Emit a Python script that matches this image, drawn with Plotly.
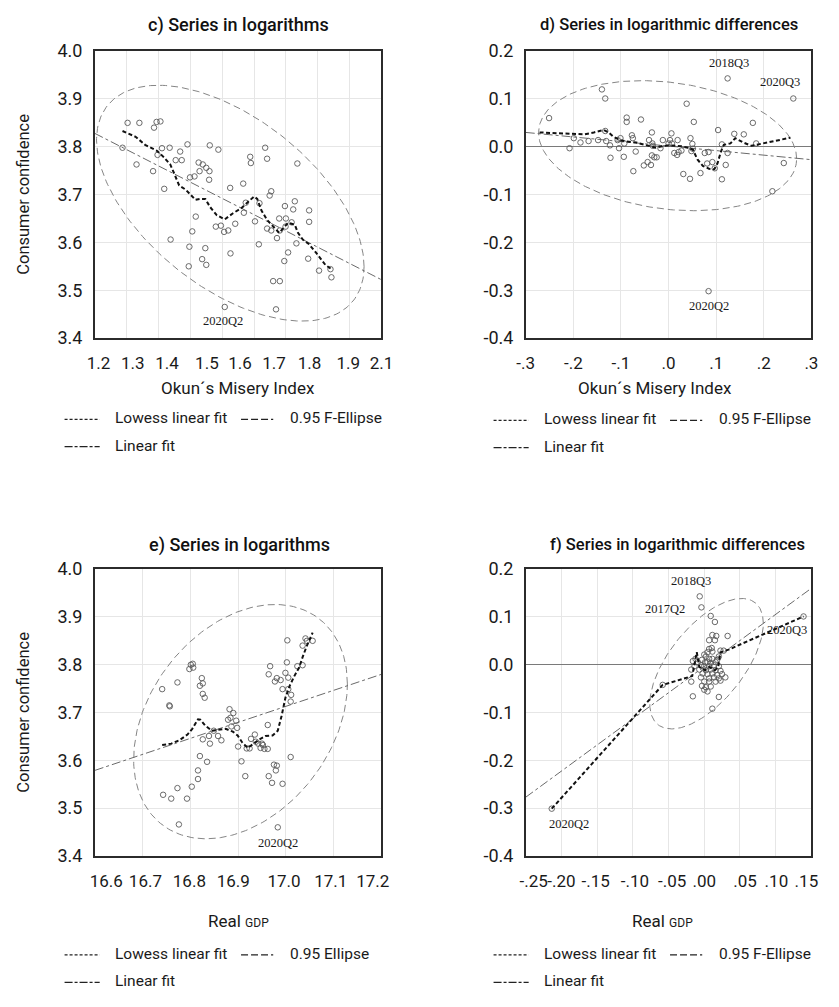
import numpy as np
import plotly.graph_objects as go

# ---------------- data ----------------
# Panel c: logs, Okun's misery index vs consumer confidence
c_x = [1.287, 1.303, 1.340, 1.331, 1.386, 1.394, 1.406, 1.383, 1.397, 1.411,
       1.435, 1.418, 1.438, 1.454, 1.468, 1.473, 1.491, 1.499, 1.513, 1.526,
       1.529, 1.539, 1.550, 1.561, 1.560, 1.559, 1.588, 1.517, 1.506, 1.497,
       1.495, 1.537, 1.547, 1.550, 1.580, 1.596, 1.606, 1.619, 1.625, 1.626,
       1.641, 1.608, 1.666, 1.668, 1.674, 1.688, 1.690, 1.703, 1.715, 1.717,
       1.735, 1.741, 1.741, 1.749, 1.754, 1.754, 1.772, 1.760, 1.781, 1.769,
       1.779, 1.781, 1.797, 1.800, 1.799, 1.795, 1.807, 1.823, 1.828, 1.818,
       1.833, 1.836, 1.873, 1.873, 1.870, 1.904, 1.940, 1.943]
c_y = [3.798, 3.850, 3.850, 3.763, 3.840, 3.852, 3.853, 3.749, 3.783, 3.797,
       3.798, 3.712, 3.606, 3.772, 3.790, 3.772, 3.805, 3.736, 3.738, 3.767,
       3.749, 3.763, 3.756, 3.803, 3.749, 3.731, 3.794, 3.654, 3.623, 3.591,
       3.550, 3.565, 3.588, 3.553, 3.633, 3.635, 3.622, 3.625, 3.714, 3.577,
       3.639, 3.465, 3.723, 3.662, 3.683, 3.779, 3.766, 3.644, 3.596, 3.682,
       3.798, 3.775, 3.629, 3.698, 3.707, 3.625, 3.609, 3.519, 3.519, 3.460,
       3.650, 3.625, 3.676, 3.650, 3.633, 3.561, 3.579, 3.669, 3.686, 3.642,
       3.598, 3.765, 3.667, 3.643, 3.566, 3.541, 3.544, 3.527]
c_lowess_x = [1.287, 1.328, 1.358, 1.394, 1.414, 1.437, 1.450, 1.465, 1.486, 1.516,
              1.532, 1.547, 1.562, 1.583, 1.608, 1.634, 1.659, 1.680, 1.700, 1.710,
              1.723, 1.741, 1.761, 1.779, 1.792, 1.807, 1.828, 1.838, 1.853, 1.873,
              1.894, 1.909, 1.924, 1.943]
c_lowess_y = [3.833, 3.821, 3.804, 3.792, 3.780, 3.763, 3.743, 3.719, 3.710, 3.689,
              3.691, 3.691, 3.674, 3.657, 3.648, 3.661, 3.671, 3.684, 3.696, 3.691,
              3.667, 3.647, 3.633, 3.620, 3.630, 3.641, 3.637, 3.620, 3.606, 3.596,
              3.579, 3.565, 3.553, 3.544]
c_fit_x = [1.2, 2.1]
c_fit_y = [3.828, 3.522]
c_ellipse = [1.6255, 3.682, 0.420, 0.2466, 122.6]   # centre x, centre y, half-width, half-height, phase (deg)
c_labels = [("2020Q2", 1.603, 3.435)]

# Panel d: log differences, Okun's misery index vs consumer confidence
d_x = [-0.251, -0.208, -0.199, -0.185, -0.168, -0.148, -0.140, -0.133, -0.133, -0.131,
       -0.123, -0.122, -0.107, -0.104, -0.101, -0.094, -0.093, -0.088, -0.088, -0.077,
       -0.075, -0.074, -0.069, -0.058, -0.052, -0.044, -0.041, -0.035, -0.037, -0.035,
       -0.034, -0.030, -0.025, -0.033, -0.017, -0.012, 0.000, 0.003, 0.006, 0.007,
       0.012, 0.018, 0.019, 0.021, 0.027, 0.031, 0.038, 0.045, 0.046, 0.048,
       0.050, 0.051, 0.053, 0.067, 0.076, 0.081, 0.084, 0.084, 0.092, 0.097,
       0.104, 0.112, 0.112, 0.120, 0.124, 0.124, 0.138, 0.158, 0.177, 0.184,
       0.218, 0.242, 0.262]
d_y = [0.060, -0.003, 0.018, 0.009, 0.012, 0.014, 0.120, 0.101, 0.033, 0.012,
       0.003, -0.023, 0.014, -0.003, 0.018, -0.021, 0.007, 0.061, 0.052, 0.024,
       0.018, -0.051, -0.010, 0.057, -0.039, -0.032, 0.014, 0.030, -0.038, -0.018,
       0.007, -0.022, -0.022, 0.002, -0.003, 0.014, 0.007, 0.014, 0.028, 0.007,
       -0.013, -0.017, 0.014, -0.011, -0.008, -0.057, 0.090, -0.067, 0.018, -0.009,
       0.006, -0.004, 0.052, -0.055, -0.013, -0.035, -0.011, -0.302, -0.032, -0.045,
       0.035, 0.005, -0.068, -0.038, -0.013, 0.143, 0.027, 0.026, 0.050, 0.007,
       -0.093, -0.034, 0.101]
d_lowess_x = [-0.271, -0.232, -0.205, -0.177, -0.157, -0.136, -0.126, -0.116, -0.102, -0.089,
              -0.068, -0.051, -0.037, -0.027, -0.014, 0.000, 0.014, 0.027, 0.041, 0.051,
              0.061, 0.072, 0.085, 0.096, 0.103, 0.110, 0.116, 0.123, 0.130, 0.140,
              0.157, 0.174, 0.198, 0.225, 0.256]
d_lowess_y = [0.030, 0.028, 0.026, 0.026, 0.030, 0.035, 0.030, 0.021, 0.014, 0.011,
              0.009, 0.005, 0.001, -0.002, 0.001, 0.003, 0.002, 0.001, -0.002, -0.006,
              -0.027, -0.040, -0.046, -0.047, -0.034, -0.010, 0.004, 0.005, 0.007, 0.018,
              0.009, 0.002, 0.007, 0.012, 0.019]
d_fit_x = [-0.3, 0.3]
d_fit_y = [0.030, -0.027]
d_ellipse = [-0.002, 0.0023, 0.271, 0.136, 101.5]
d_labels = [("2018Q3", 0.126, 0.175), ("2020Q3", 0.235, 0.135), ("2020Q2", 0.085, -0.332)]

# Panel e: logs, real GDP vs consumer confidence
e_x = [16.741, 16.743, 16.756, 16.757, 16.760, 16.773, 16.773, 16.776, 16.793, 16.798,
       16.801, 16.805, 16.806, 16.803, 16.816, 16.816, 16.820, 16.820, 16.824, 16.826,
       16.826, 16.830, 16.826, 16.835, 16.839, 16.841, 16.849, 16.858, 16.865, 16.879,
       16.882, 16.884, 16.890, 16.886, 16.896, 16.898, 16.900, 16.907, 16.915, 16.918,
       16.924, 16.927, 16.935, 16.937, 16.942, 16.947, 16.950, 16.952, 16.955, 16.962,
       16.962, 16.964, 16.967, 16.964, 16.971, 16.975, 16.981, 16.979, 16.977, 16.981,
       16.989, 16.983, 16.993, 16.993, 16.999, 17.002, 17.003, 17.005, 17.005, 17.011,
       17.010, 17.010, 17.024, 17.035, 17.035, 17.041, 17.044, 17.056]
e_y = [3.749, 3.528, 3.715, 3.713, 3.520, 3.763, 3.542, 3.466, 3.520, 3.791,
       3.800, 3.802, 3.794, 3.545, 3.561, 3.579, 3.609, 3.756, 3.772, 3.761,
       3.739, 3.731, 3.644, 3.597, 3.651, 3.635, 3.662, 3.651, 3.642, 3.685,
       3.707, 3.689, 3.699, 3.671, 3.683, 3.668, 3.629, 3.598, 3.567, 3.625,
       3.625, 3.645, 3.654, 3.639, 3.635, 3.626, 3.635, 3.632, 3.624, 3.624,
       3.674, 3.780, 3.797, 3.567, 3.553, 3.591, 3.589, 3.579, 3.765, 3.772,
       3.768, 3.460, 3.749, 3.551, 3.783, 3.805, 3.851, 3.773, 3.749, 3.737,
       3.723, 3.607, 3.797, 3.799, 3.840, 3.855, 3.850, 3.850]
e_lowess_x = [16.741, 16.760, 16.777, 16.794, 16.804, 16.816, 16.821, 16.831, 16.845, 16.858,
              16.874, 16.889, 16.899, 16.909, 16.920, 16.930, 16.943, 16.957, 16.972, 16.983,
              16.991, 16.999, 17.008, 17.017, 17.028, 17.035, 17.044, 17.056]
e_lowess_y = [3.632, 3.635, 3.642, 3.654, 3.666, 3.686, 3.685, 3.673, 3.662, 3.664,
              3.666, 3.660, 3.652, 3.637, 3.626, 3.633, 3.643, 3.651, 3.652, 3.662,
              3.693, 3.731, 3.756, 3.775, 3.795, 3.816, 3.840, 3.867]
e_fit_x = [16.6, 17.2]
e_fit_y = [3.579, 3.780]
e_ellipse = [16.905, 3.681, 0.2237, 0.245, 71.2]
e_labels = [("2020Q2", 16.984, 3.427)]

# Panel f: log differences, real GDP vs consumer confidence
f_x = [-0.2136, 0.139, -0.0064, -0.004, -0.0582, 0.009, 0.0149, 0.0113, 0.0168, 0.0327,
       0.0068, 0.0149, 0.0068, 0.0104, 0.0045, 0.0113, 0.0227, 0.0272, 0.0204, 0.0022,
       0.0000, -0.0123, -0.0032, 0.0068, 0.0113, 0.0181, -0.0160, -0.0092, 0.0013, 0.0045,
       0.0090, 0.0158, -0.0137, -0.0046, 0.0000, 0.0068, 0.0136, 0.0204, -0.0182, -0.0069,
       0.0022, 0.0090, 0.0158, 0.0227, -0.0023, 0.0045, 0.0113, 0.0181, 0.0249, -0.0046,
       0.0068, 0.0136, 0.0204, 0.0295, -0.0182, 0.0000, 0.0068, 0.0158, 0.0227, -0.0032,
       0.0022, 0.0090, 0.0000, 0.0045, -0.0160, 0.0204, 0.0113]
f_y = [-0.301, 0.101, 0.143, 0.120, -0.0421, 0.102, 0.0895, 0.0622, 0.0602, 0.0602,
       0.0513, 0.0513, 0.0329, 0.0350, 0.0261, 0.0275, 0.0295, 0.0295, 0.0172, 0.0172,
       0.0213, 0.0124, 0.0104, 0.0124, 0.0124, 0.0104, 0.0077, 0.0056, 0.0056, 0.0056,
       0.0036, 0.0056, -0.0032, -0.0012, -0.0032, -0.0032, -0.0012, -0.0032, -0.0101, -0.0101,
       -0.0114, -0.0101, -0.0114, -0.0128, -0.0182, -0.0196, -0.0182, -0.0217, -0.0196, -0.0264,
       -0.0285, -0.0264, -0.0285, -0.0264, -0.0353, -0.0353, -0.0353, -0.0353, -0.0332, -0.0442,
       -0.0469, -0.0455, -0.0523, -0.0558, -0.0660, -0.0674, -0.0919]
f_lowess_x = [-0.2136, -0.0582, -0.0169, -0.0105, -0.0069, 0.0013, 0.0068, 0.0149, 0.0195,
              0.0227, 0.0340, 0.139]
f_lowess_y = [-0.301, -0.0421, -0.0237, 0.0261, -0.0046, -0.0114, -0.0046, -0.0114, -0.0046,
              0.0261, 0.0315, 0.101]
f_fit_x = [-0.25, 0.15]
f_fit_y = [-0.277, 0.160]
f_ellipse = [0.0032, 0.0022, 0.0795, 0.1364, 51.9]
f_labels = [("2018Q3", -0.019, 0.176), ("2017Q2", -0.0555, 0.116),
            ("2020Q3", 0.116, 0.0725), ("2020Q2", -0.19, -0.333)]

# Tick labels
c_xtick_pos = [1.212, 1.319, 1.427, 1.552, 1.656, 1.763, 1.874, 1.996, 2.1]
c_xtick_txt = ["1.2", "1.3", "1.4", "1.5", "1.6", "1.7", "1.8", "1.9", "2.1"]
d_xtick_pos = [-0.3, -0.2, -0.1, 0.0, 0.1, 0.2, 0.3]
d_xtick_txt = ["-.3", "-.2", "-.1", ".0", ".1", ".2", ".3"]
e_xtick_pos = [16.624, 16.706, 16.798, 16.890, 16.996, 17.094, 17.182]
e_xtick_txt = ["16.6", "16.7", "16.8", "16.9", "17.0", "17.1", "17.2"]
f_xtick_pos = [-0.239, -0.2, -0.152, -0.097, -0.045, 0.0, 0.057, 0.101, 0.143]
f_xtick_txt = ["-.25", "-.20", "-.15", "-.10", "-.05", ".00", ".05", ".10", ".15"]
lev_ytick_pos = [3.4, 3.5, 3.6, 3.7, 3.8, 3.9, 4.0]
lev_ytick_txt = ["3.4", "3.5", "3.6", "3.7", "3.8", "3.9", "4.0"]
dif_ytick_pos = [-0.4, -0.3, -0.2, -0.1, 0.0, 0.1, 0.2]
dif_ytick_txt = ["-0.4", "-0.3", "-0.2", "-0.1", "0.0", "0.1", "0.2"]

titles = ["c) Series in logarithms", "d) Series in logarithmic differences",
          "e) Series in logarithms", "f) Series in logarithmic differences"]

# ---------------- styling ----------------
W, H = 839, 1007
FONT = "Roboto, Lato, Liberation Sans, sans-serif"
SERIF = "Liberation Serif, DejaVu Serif, serif"
INK = "#1a1a1a"
GRID = "#e6e6e6"


def px(x):
    return x / W


def py(y):
    return 1 - y / H


fig = go.Figure()

panels = [
    dict(x=c_x, y=c_y, lx=c_lowess_x, ly=c_lowess_y, fx=c_fit_x, fy=c_fit_y, ell=c_ellipse,
         labels=c_labels, ax=""),
    dict(x=d_x, y=d_y, lx=d_lowess_x, ly=d_lowess_y, fx=d_fit_x, fy=d_fit_y, ell=d_ellipse,
         labels=d_labels, ax="2"),
    dict(x=e_x, y=e_y, lx=e_lowess_x, ly=e_lowess_y, fx=e_fit_x, fy=e_fit_y, ell=e_ellipse,
         labels=e_labels, ax="3"),
    dict(x=f_x, y=f_y, lx=f_lowess_x, ly=f_lowess_y, fx=f_fit_x, fy=f_fit_y, ell=f_ellipse,
         labels=f_labels, ax="4"),
]

annotations = []
for p in panels:
    xa, ya = "x" + p["ax"], "y" + p["ax"]
    cx, cy, rx, ry, ph = p["ell"]
    t = np.linspace(0, 2 * np.pi, 240)
    fig.add_trace(go.Scatter(x=cx + rx * np.cos(t), y=cy + ry * np.cos(t - np.radians(ph)),
                             mode="lines", line=dict(color="#858585", width=1, dash="7px,4px"),
                             xaxis=xa, yaxis=ya, showlegend=False, hoverinfo="skip"))
    fig.add_trace(go.Scatter(x=p["fx"], y=p["fy"], mode="lines",
                             line=dict(color="#6a6a6a", width=1, dash="9px,3px,3px,3px"),
                             xaxis=xa, yaxis=ya, showlegend=False))
    fig.add_trace(go.Scatter(x=p["x"], y=p["y"], mode="markers",
                             marker=dict(symbol="circle-open", size=5.5, color="#5a5a5a",
                                         line=dict(width=0.9)),
                             xaxis=xa, yaxis=ya, showlegend=False))
    fig.add_trace(go.Scatter(x=p["lx"], y=p["ly"], mode="lines",
                             line=dict(color="#111111", width=2, dash="4px,2.5px"),
                             xaxis=xa, yaxis=ya, showlegend=False))
    for txt, lx, ly in p["labels"]:
        annotations.append(dict(text=txt, x=lx, y=ly, xref=xa, yref=ya, showarrow=False,
                                font=dict(family=SERIF, size=12.5, color=INK)))

# Axis layout
left_dom = [88 / W, 382 / W]
right_dom = [530 / W, 823 / W]
top_dom = [py(334), py(41)]
bot_dom = [py(863), py(570)]

common = dict(showline=True, mirror=True, linecolor="#2b2b2b", linewidth=1.5, ticks="",
              zeroline=False, tickmode="array", tickangle=0)


def xaxis(dom, rng, pos, txt, dtick, anchor):
    return dict(common, domain=dom, range=rng, tickvals=pos, ticktext=txt, showgrid=False,
                anchor=anchor, ticklabelstandoff=9,
                tickfont=dict(family=FONT, size=17, color=INK),
                minor=dict(tickmode="linear", tick0=rng[0], dtick=dtick, showgrid=True,
                           gridcolor=GRID, gridwidth=1, ticks=""))


def yaxis(dom, rng, pos, txt, anchor, zero):
    return dict(common, domain=dom, range=rng, tickvals=pos, ticktext=txt, showgrid=True,
                gridcolor=GRID, gridwidth=1, anchor=anchor, zeroline=zero,
                zerolinecolor="#7a7a7a", zerolinewidth=1, ticklabelstandoff=7,
                tickfont=dict(family=FONT, size=18, color=INK))


fig.update_layout(
    xaxis=xaxis(left_dom, [1.2, 2.1], c_xtick_pos, c_xtick_txt, 0.1, "y"),
    yaxis=yaxis(top_dom, [3.4, 4.0], lev_ytick_pos, lev_ytick_txt, "x", False),
    xaxis2=xaxis(right_dom, [-0.3, 0.3], d_xtick_pos, d_xtick_txt, 0.1, "y2"),
    yaxis2=yaxis(top_dom, [-0.4, 0.2], dif_ytick_pos, dif_ytick_txt, "x2", True),
    xaxis3=xaxis(left_dom, [16.6, 17.2], e_xtick_pos, e_xtick_txt, 0.1, "y3"),
    yaxis3=yaxis(bot_dom, [3.4, 4.0], lev_ytick_pos, lev_ytick_txt, "x3", False),
    xaxis4=xaxis(right_dom, [-0.25, 0.15], f_xtick_pos, f_xtick_txt, 0.05, "y4"),
    yaxis4=yaxis(bot_dom, [-0.4, 0.2], dif_ytick_pos, dif_ytick_txt, "x4", True),
)

# Panel titles
for txt, x, y, s in zip(titles, [235, 677, 236, 686], [14, 14, 545, 545], [18, 16.5, 18, 16.5]):
    annotations.append(dict(text=txt, x=px(x), y=py(y), xref="paper", yref="paper",
                            showarrow=False, xanchor="center", yanchor="middle",
                            font=dict(family=FONT, size=s, color="#111", weight=500)))

# Axis titles
for txt, x, y in [("Okun´s Misery Index", 235, 385), ("Okun´s Misery Index", 663, 385),
                  ("Real <span style='font-size:12px'>GDP</span>", 235, 929),
                  ("Real <span style='font-size:12px'>GDP</span>", 670, 929)]:
    annotations.append(dict(text=txt, x=px(x), y=py(y), xref="paper", yref="paper",
                            showarrow=False, xanchor="center", yanchor="middle",
                            font=dict(family=FONT, size=17, color=INK)))
for y in [187, 716]:
    annotations.append(dict(text="Consumer confidence", x=px(14), y=py(y), xref="paper",
                            yref="paper", showarrow=False, textangle=-90,
                            xanchor="center", yanchor="middle",
                            font=dict(family=FONT, size=16.5, color=INK)))

# Legends (drawn as key samples + text under each panel)
shapes = []
legend_rows = [(0, 416, 444, "0.95 F-Ellipse"), (440, 417, 445, "0.95 F-Ellipse"),
               (0, 963, 991, "0.95 Ellipse"), (440, 963, 991, "0.95 F-Ellipse")]
for dx, r1, r2, ell_txt in legend_rows:
    shapes.append(dict(type="line", xref="paper", yref="paper", x0=px(57 + dx), x1=px(93 + dx),
                       y0=py(r1 + 1), y1=py(r1 + 1), line=dict(color="#222", width=1.2, dash="3px,2px")))
    shapes.append(dict(type="line", xref="paper", yref="paper", x0=px(238 + dx), x1=px(271 + dx),
                       y0=py(r1 + 1), y1=py(r1 + 1), line=dict(color="#222", width=1.2, dash="7px,3px")))
    shapes.append(dict(type="line", xref="paper", yref="paper", x0=px(57 + dx), x1=px(93 + dx),
                       y0=py(r2 + 1), y1=py(r2 + 1), line=dict(color="#222", width=1.2,
                                                               dash="8px,2px,3px,2px")))
    for txt, x, y in [("Lowess linear fit", 107 + dx, r1), (ell_txt, 286 + dx, r1),
                      ("Linear fit", 107 + dx, r2)]:
        annotations.append(dict(text=txt, x=px(x), y=py(y), xref="paper", yref="paper",
                                showarrow=False, xanchor="left", yanchor="middle",
                                font=dict(family=FONT, size=15.5, color=INK)))

fig.update_layout(
    width=W, height=H, margin=dict(l=0, r=0, t=0, b=0),
    paper_bgcolor="white", plot_bgcolor="white", showlegend=False,
    annotations=annotations, shapes=shapes,
)

fig.write_html("out.html", config={"displayModeBar": False},
               post_script="document.body.style.margin='0';document.body.style.overflow='hidden';")
